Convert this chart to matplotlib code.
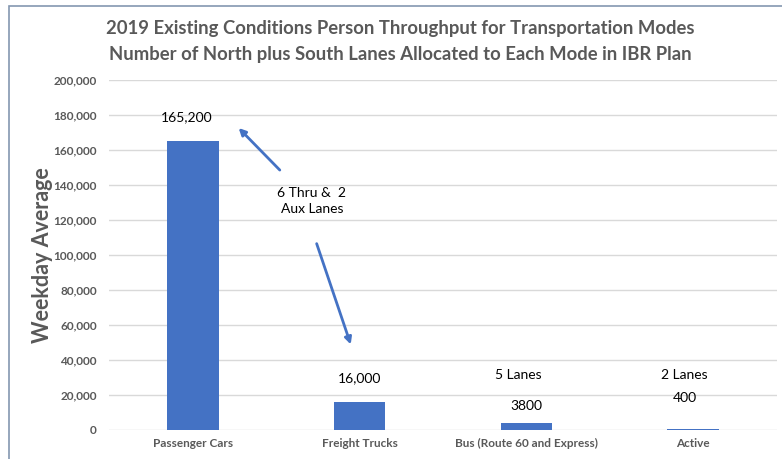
import matplotlib
matplotlib.use("Agg")
import matplotlib.pyplot as plt
from matplotlib.patches import Rectangle
from matplotlib.ticker import FuncFormatter

categories = ["Passenger Cars", "Freight Trucks", "Bus (Route 60 and Express)", "Active"]
values = [165200, 16000, 3800, 400]
value_labels = ["165,200", "16,000", "3800", "400"]
lane_labels = ["", "", "5 Lanes", "2 Lanes"]
yticks = list(range(0, 200001, 20000))

plt.rcParams['font.family'] = ['Lato', 'DejaVu Sans']
gray = '#595959'
blue = '#4472C4'

fig = plt.figure(figsize=(7.82, 4.59), dpi=100)
ax = fig.add_axes([0.14, 0.0632, 0.853, 0.7625])

x = list(range(len(categories)))
ax.bar(x, values, width=0.31, color=blue, zorder=3)
ax.set_xlim(-0.5, 3.5)
ax.set_ylim(0, 200000)
ax.set_yticks(yticks)
ax.yaxis.set_major_formatter(FuncFormatter(lambda v, p: f"{int(v):,}"))
ax.set_xticks(x)
ax.set_xticklabels(categories, fontsize=8.5, fontweight='bold', color=gray)
for lbl in ax.get_yticklabels():
    lbl.set_fontsize(8.5)
    lbl.set_fontweight('bold')
    lbl.set_color(gray)
ax.tick_params(axis='both', length=0, pad=9)
ax.tick_params(axis='x', pad=6)
ax.grid(axis='y', color='#d9d9d9', lw=1, zorder=0)
for s in ax.spines.values():
    s.set_visible(False)

ax.set_ylabel("Weekday Average", fontsize=15.5, fontweight='bold', color=gray, labelpad=0)

# value labels
ax.text(-0.036, 178900, value_labels[0], ha='center', va='center', fontsize=10, color='black')
ax.text(1.0, 29700, value_labels[1], ha='center', va='center', fontsize=10, color='black')
ax.text(2.0, 13700, value_labels[2], ha='center', va='center', fontsize=10, color='black')
ax.text(2.95, 18300, value_labels[3], ha='center', va='center', fontsize=10, color='black')
ax.text(1.95, 31400, lane_labels[2], ha='center', va='center', fontsize=10, color='black')
ax.text(2.95, 31400, lane_labels[3], ha='center', va='center', fontsize=10, color='black')

ax.text(0.713, 131000, "6 Thru &  2\nAux Lanes", ha='center', va='center', fontsize=10,
        color='black', linespacing=1.4)
ax.annotate("", xy=(0.263, 173700), xytext=(0.533, 147400),
            arrowprops=dict(arrowstyle='-|>', color=blue, lw=2, mutation_scale=10))
ax.annotate("", xy=(0.952, 47400), xytext=(0.737, 108000),
            arrowprops=dict(arrowstyle='-|>', color=blue, lw=2, mutation_scale=10))

fig.text(0.512, 0.938, "2019 Existing Conditions Person Throughput for Transportation Modes",
         ha='center', va='center', fontsize=13.3, fontweight='bold', color=gray)
fig.text(0.512, 0.882, "Number of North plus South Lanes Allocated to Each Mode in IBR Plan",
         ha='center', va='center', fontsize=13.3, fontweight='bold', color=gray)

fig.patches.append(Rectangle((9/782, -0.1), 1.2, 1 - 6/459 + 0.1, transform=fig.transFigure,
                             fill=False, edgecolor='#8497B0', lw=1.2))

fig.savefig("out.png", dpi=100)
